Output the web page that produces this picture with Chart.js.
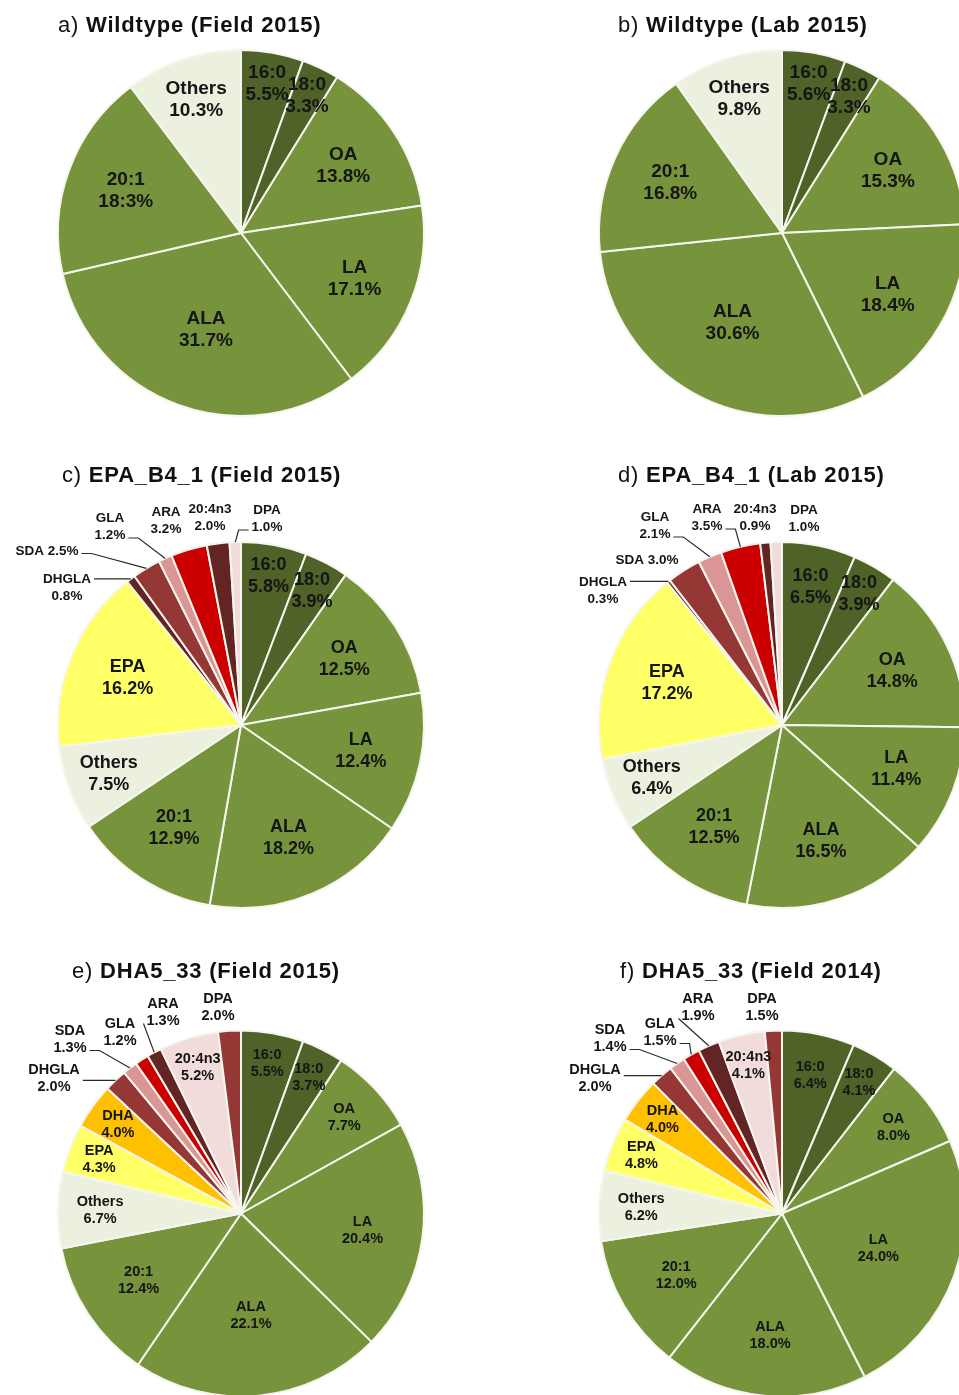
<!DOCTYPE html>
<html>
<head>
<meta charset="utf-8">
<script src="https://cdn.jsdelivr.net/npm/chart.js@4.4.1/dist/chart.umd.min.js"></script>
<style>
    html, body { margin: 0; padding: 0; background: #fff; overflow: hidden; }
    #page { position: relative; width: 959px; height: 1395px; overflow: hidden; }
    #page canvas { position: absolute; }
</style>
</head>
<body>
<div id="page"></div>
<script>
// --- 1. DATA ---
const wildCats = ['16:0', '18:0', 'OA', 'LA', 'ALA', '20:1', 'Others'];
const epaCats = ['16:0', '18:0', 'OA', 'LA', 'ALA', '20:1', 'Others', 'EPA', 'DHGLA', 'SDA', 'GLA', 'ARA', '20:4n3', 'DPA'];
const dhaCats = ['16:0', '18:0', 'OA', 'LA', 'ALA', '20:1', 'Others', 'EPA', 'DHA', 'DHGLA', 'SDA', 'GLA', 'ARA', '20:4n3', 'DPA'];

const wildField2015 = [5.5, 3.3, 13.8, 17.1, 31.7, 18.3, 10.3];
const wildLab2015 = [5.6, 3.3, 15.3, 18.4, 30.6, 16.8, 9.8];
const epaField2015 = [5.8, 3.9, 12.5, 12.4, 18.2, 12.9, 7.5, 16.2, 0.8, 2.5, 1.2, 3.2, 2.0, 1.0];
const epaLab2015 = [6.5, 3.9, 14.8, 11.4, 16.5, 12.5, 6.4, 17.2, 0.3, 3.0, 2.1, 3.5, 0.9, 1.0];
const dhaField2015 = [5.5, 3.7, 7.7, 20.4, 22.1, 12.4, 6.7, 4.3, 4.0, 2.0, 1.3, 1.2, 1.3, 5.2, 2.0];
const dhaField2014 = [6.4, 4.1, 8.0, 24.0, 18.0, 12.0, 6.2, 4.8, 4.0, 2.0, 1.4, 1.5, 1.9, 4.1, 1.5];

const panelTags = ['a)', 'b)', 'c)', 'd)', 'e)', 'f)'];
const panelTitles = ['Wildtype (Field 2015)', 'Wildtype (Lab 2015)', 'EPA_B4_1 (Field 2015)',
    'EPA_B4_1 (Lab 2015)', 'DHA5_33 (Field 2015)', 'DHA5_33 (Field 2014)'];

// label text printed differently in the original
const pctTextA = { '20:1': '18:3%' };

// --- 2. STYLE ---
const DG = '#4F6228', G = '#77933C', OTH = '#EBF1DE', YEL = '#FFFF66', ORA = '#FFC000';
const MAR = '#632523', BRN = '#953735', PNK = '#D99694', RED = '#CC0000', LPK = '#F2DCDB';
const wildColors = [DG, DG, G, G, G, G, OTH];
const epaColors = [DG, DG, G, G, G, G, OTH, YEL, MAR, BRN, PNK, RED, MAR, LPK];
const dhaColors = [DG, DG, G, G, G, G, OTH, YEL, ORA, BRN, PNK, RED, MAR, LPK, BRN];

const FONT = '"Liberation Sans", Arial, sans-serif';
const R = 183;

// outside label blocks: [dx, dy from pie centre, single line?]
const outC = { DHGLA: [-174, -137], SDA: [-194, -174, true], GLA: [-131, -198], ARA: [-75, -204], '20:4n3': [-31, -207], DPA: [26, -206] };
const outD = { DHGLA: [-179, -134], SDA: [-135, -165, true], GLA: [-127, -199], ARA: [-75, -207], '20:4n3': [-27, -207], DPA: [22, -206] };
const outE = { DHGLA: [-187, -135], SDA: [-171, -174], GLA: [-121, -181], ARA: [-78, -201], DPA: [-23, -206] };
const outF = { DHGLA: [-187, -135], SDA: [-172, -175], GLA: [-122, -181], ARA: [-84, -206], DPA: [-20, -206] };

const panels = [
    { left: 0, top: 0, w: 480, h: 440, cx: 241, cy: 233, tx: 58, ty: 32, cats: wildCats, data: wildField2015, colors: wildColors, outside: {}, pctText: pctTextA, inSize: 19, inLine: 22 },
    { left: 480, top: 0, w: 490, h: 440, cx: 302, cy: 233, tx: 138, ty: 32, cats: wildCats, data: wildLab2015, colors: wildColors, outside: {}, pctText: {}, inSize: 19, inLine: 22 },
    { left: 0, top: 440, w: 480, h: 490, cx: 241, cy: 285, tx: 62, ty: 42, cats: epaCats, data: epaField2015, colors: epaColors, outside: outC, pctText: {}, inSize: 18, inLine: 22, outSize: 13.5, outLine: 17 },
    { left: 480, top: 440, w: 490, h: 490, cx: 302, cy: 285, tx: 138, ty: 42, cats: epaCats, data: epaLab2015, colors: epaColors, outside: outD, pctText: {}, inSize: 18, inLine: 22, outSize: 13.5, outLine: 17 },
    { left: 0, top: 930, w: 480, h: 465, cx: 241, cy: 285, tx: 72, ty: 48, cats: dhaCats, data: dhaField2015, colors: dhaColors, outside: outE, pctText: {}, inSize: 14.5, inLine: 17, outSize: 14.5, outLine: 17 },
    { left: 480, top: 930, w: 490, h: 465, cx: 302, cy: 285, tx: 140, ty: 48, cats: dhaCats, data: dhaField2014, colors: dhaColors, outside: outF, pctText: {}, inSize: 14.5, inLine: 17, outSize: 14.5, outLine: 17 }
];

// --- 3. PLUGINS ---
const radialFrac = v => v < 6 ? 0.83 : v < 11 ? 0.77 : v <= 21 ? 0.67 : 0.56;

const drawBlock = (ctx, lines, x, y, lineH) => {
    const y0 = y - (lines.length - 1) * lineH / 2;
    lines.forEach((t, k) => ctx.fillText(t, x, y0 + k * lineH));
};

const pieLabels = {
    id: 'pieLabels',
    afterDatasetsDraw(chart, args, opts) {
        const ctx = chart.ctx;
        const meta = chart.getDatasetMeta(0);
        const values = chart.data.datasets[0].data;
        const names = chart.data.labels;
        ctx.save();
        ctx.fillStyle = '#151515';
        ctx.strokeStyle = '#2a2a2a';
        ctx.lineWidth = 1.2;
        ctx.textAlign = 'center';
        ctx.textBaseline = 'middle';

        meta.data.forEach((arc, i) => {
            const p = arc.getProps(['x', 'y', 'startAngle', 'endAngle', 'outerRadius'], true);
            const mid = (p.startAngle + p.endAngle) / 2;
            const name = names[i];
            const pct = opts.pctText[name] || values[i].toFixed(1) + '%';
            const out = opts.outside[name];

            if (!out) {
                const f = radialFrac(values[i]);
                ctx.font = `bold ${opts.inSize}px ${FONT}`;
                drawBlock(ctx, [name, pct], p.x + Math.cos(mid) * p.outerRadius * f,
                    p.y + Math.sin(mid) * p.outerRadius * f, opts.inLine);
                return;
            }

            // outside label + leader line
            ctx.font = `bold ${opts.outSize}px ${FONT}`;
            const lines = out[2] ? [name + ' ' + pct] : [name, pct];
            const bx = p.x + out[0], by = p.y + out[1];
            drawBlock(ctx, lines, bx, by, opts.outLine);

            const bw = Math.max(...lines.map(t => ctx.measureText(t).width));
            const bh = lines.length * opts.outLine;
            const L = bx - bw / 2, Rt = bx + bw / 2, T = by - bh / 2, B = by + bh / 2;
            const ax = p.x + Math.cos(mid) * p.outerRadius;
            const ay = p.y + Math.sin(mid) * p.outerRadius;
            const gx = Math.max(L - ax, ax - Rt, 0), gy = Math.max(T - ay, ay - B, 0);
            if (Math.hypot(gx, gy) < 14) return;

            const yA = Math.min(Math.max(ay, T + 6), B - 6);
            ctx.beginPath();
            if (ax > Rt) {
                ctx.moveTo(Rt + 3, yA); ctx.lineTo(Rt + 13, yA);
            } else if (ax < L) {
                ctx.moveTo(L - 3, yA); ctx.lineTo(L - 13, yA);
            } else {
                ctx.moveTo(L - 3, yA);
            }
            ctx.lineTo(ax, ay);
            ctx.stroke();
        });
        ctx.restore();
    }
};

const panelTitle = {
    id: 'panelTitle',
    afterDraw(chart, args, opts) {
        const ctx = chart.ctx;
        ctx.save();
        ctx.fillStyle = '#111';
        ctx.textBaseline = 'alphabetic';
        ctx.textAlign = 'left';
        if ('letterSpacing' in ctx) ctx.letterSpacing = '0.8px';
        ctx.font = `22px ${FONT}`;
        ctx.fillText(opts.tag, opts.x, opts.y);
        const w = ctx.measureText(opts.tag + ' ').width;
        ctx.font = `bold 22px ${FONT}`;
        ctx.fillText(opts.text, opts.x + w, opts.y);
        ctx.restore();
    }
};

// --- 4. BUILD CHARTS ---
const page = document.getElementById('page');

panels.forEach((pn, k) => {
    const canvas = document.createElement('canvas');
    canvas.width = pn.w;
    canvas.height = pn.h;
    canvas.style.left = pn.left + 'px';
    canvas.style.top = pn.top + 'px';
    canvas.style.width = pn.w + 'px';
    canvas.style.height = pn.h + 'px';
    page.appendChild(canvas);

    new Chart(canvas.getContext('2d'), {
        type: 'pie',
        data: {
            labels: pn.cats,
            datasets: [{
                data: pn.data,
                backgroundColor: pn.colors,
                borderColor: '#f6f6ee',
                borderWidth: 2,
                hoverOffset: 0
            }]
        },
        options: {
            responsive: false,
            animation: false,
            events: [],
            devicePixelRatio: 1,
            radius: R,
            layout: {
                padding: { left: pn.cx - R, right: pn.w - pn.cx - R, top: pn.cy - R, bottom: pn.h - pn.cy - R }
            },
            plugins: {
                legend: { display: false },
                tooltip: { enabled: false },
                pieLabels: {
                    outside: pn.outside, pctText: pn.pctText,
                    inSize: pn.inSize, inLine: pn.inLine, outSize: pn.outSize, outLine: pn.outLine
                },
                panelTitle: { tag: panelTags[k], text: panelTitles[k], x: pn.tx, y: pn.ty }
            }
        },
        plugins: [pieLabels, panelTitle]
    });
});
</script>
</body>
</html>
